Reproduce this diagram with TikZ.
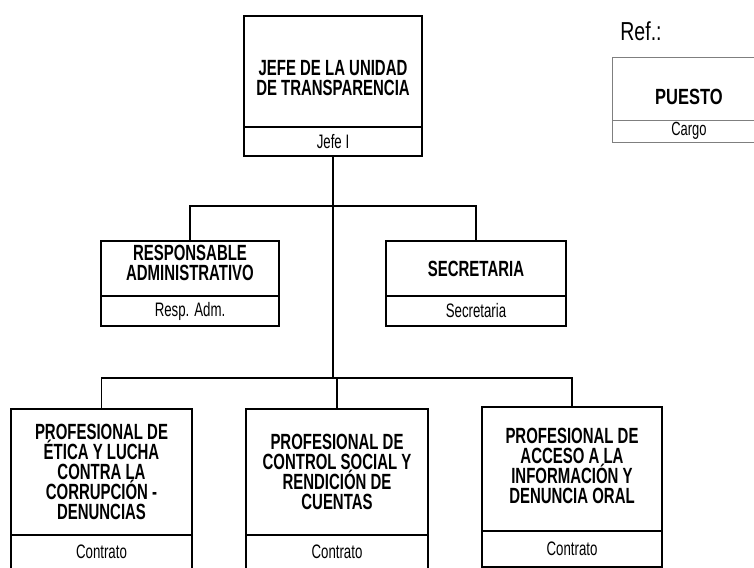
\documentclass[tikz,border=0pt]{standalone}
\usepackage{fontspec}
\setmainfont{Liberation Sans}[FakeStretch=0.68]
\newfontfamily\ancha{Liberation Sans}[FakeStretch=0.75]
\usepackage{tikz}
\usetikzlibrary{positioning}
\definecolor{gris}{HTML}{7F7F7F}

\begin{document}
\begin{tikzpicture}[
      x=1pt, y=-1pt,
      caja/.style={draw, line width=1.3pt, outer sep=0pt, inner sep=2pt, align=center},
      puesto/.style={caja, minimum width=178pt,
                     font=\fontsize{22}{20}\selectfont\bfseries},
      cargo/.style={caja, minimum width=178pt, minimum height=29pt,
                    font=\fontsize{19.5}{20}\selectfont, below=0pt of #1},
      muestra/.style={draw=gris, line width=1pt},
      linea/.style={line width=1.3pt},
    ]
    \clip (0,0) rectangle (754,567);

    % =============== NODOS ===============================================
    % --- Nivel 1: jefatura ---
    \node[puesto, minimum height=111pt, text height=48pt] (jefe) at (333,71.5)
      {JEFE DE LA UNIDAD\\DE TRANSPARENCIA};
    \node[cargo=jefe] (jefec) {Jefe I};

    % --- Nivel 2: apoyo ---
    \node[puesto, minimum height=55pt, text depth=11pt] (resp) at (190,268.5)
      {RESPONSABLE\\ADMINISTRATIVO};
    \node[cargo=resp, minimum height=30pt] (respc) {Resp. Adm.};
    \node[puesto, minimum width=180pt, minimum height=55pt] (secr) at (476,268.5)
      {SECRETARIA};
    \node[cargo=secr, minimum width=180pt, minimum height=30pt] (secrc) {Secretaria};

    % --- Nivel 3: profesionales ---
    \node[puesto, minimum width=181pt, minimum height=126pt] (etica) at (101.5,472)
      {PROFESIONAL DE\\ÉTICA Y LUCHA\\CONTRA LA\\CORRUPCIÓN -\\DENUNCIAS};
    \node[cargo=etica, minimum width=181pt, minimum height=34pt] (eticac) {Contrato};
    \node[puesto, minimum width=182pt, minimum height=126pt] (control) at (337,472)
      {PROFESIONAL DE\\CONTROL SOCIAL Y\\RENDICIÓN DE\\CUENTAS};
    \node[cargo=control, minimum width=182pt, minimum height=34pt] (controlc) {Contrato};
    \node[puesto, minimum width=180pt, minimum height=124pt, text depth=6pt]
      (acceso) at (572,469)
      {PROFESIONAL DE\\ACCESO A LA\\INFORMACIÓN Y\\DENUNCIA ORAL};
    \node[cargo=acceso, minimum width=180pt, minimum height=36pt] (accesoc) {Contrato};

    % --- Referencia ---
    \node[font=\ancha\fontsize{26}{26}\selectfont] (reft) at (641,31) {Ref.:};
    \node[puesto, muestra, minimum width=154pt, minimum height=62pt,
          text height=32pt, text depth=0pt,
          font=\ancha\fontsize{22}{22}\selectfont\bfseries] (refp) at (689,89) {PUESTO};
    \node[cargo=refp, muestra, minimum width=154pt, minimum height=22pt,
          font=\fontsize{19}{19}\selectfont] (refc) {Cargo};

    % =============== LINEAS ==============================================
    \coordinate (barra1) at (0,206);
    \coordinate (barra2) at (0,378);
    \draw[linea] (jefec.south) -- (jefec.south |- barra2);
    \draw[linea] (resp.north) -- (resp.north |- barra1)
      -- (secr.north |- barra1) -- (secr.north);
    \draw[linea] (etica.north) -- (etica.north |- barra2)
      -| (acceso.north);
    \draw[linea] (control.north) -- (control.north |- barra2);
  \end{tikzpicture}
\end{document}
